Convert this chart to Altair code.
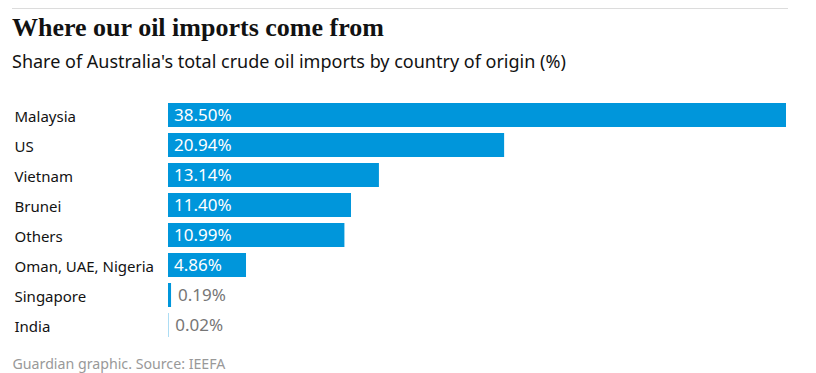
import altair as alt
import pandas as pd

countries = ["Malaysia", "US", "Vietnam", "Brunei", "Others", "Oman, UAE, Nigeria", "Singapore", "India"]
shares = [38.50, 20.94, 13.14, 11.40, 10.99, 4.86, 0.19, 0.02]

title_text = "Where our oil imports come from"
subtitle_text = "Share of Australia's total crude oil imports by country of origin (%)"
footer_text = "Guardian graphic. Source: IEEFA"

BLUE = "#0096db"
INK = "#121212"
SANS = "Noto Sans"

df = pd.DataFrame({"country": countries, "share": shares})

y_enc = alt.Y(
    "country:N",
    sort=countries,
    title=None,
    scale=alt.Scale(paddingInner=0.2, paddingOuter=0.1),
    axis=alt.Axis(
        labelAlign="left",
        labelPadding=154,
        ticks=False,
        tickSize=0,
        domain=False,
        labelFont=SANS,
        labelFontSize=15,
        labelColor=INK,
        labelBaseline="alphabetic",
        labelOffset=7.4,
    ),
)

x_scale = alt.Scale(domain=[0, 38.5], nice=False, zero=True)

base = alt.Chart(df)

bars = base.mark_bar(color=BLUE).encode(
    x=alt.X(
        "share:Q",
        scale=x_scale,
        axis=alt.Axis(
            labels=False,
            ticks=False,
            domain=False,
            grid=False,
            title=footer_text,
            titleX=-156,
            titleY=28,
            titleAlign="left",
            titleBaseline="alphabetic",
            titleFont=SANS,
            titleFontSize=14.2,
            titleFontWeight="normal",
            titleColor="#999999",
        ),
    ),
    y=y_enc,
)

inside = (
    base.transform_filter("datum.share >= 1")
    .transform_calculate(zero="0", label="format(datum.share, '.2f') + '%'")
    .mark_text(align="left", baseline="alphabetic", dx=6, dy=6.4, font=SANS, fontSize=17, color="white")
    .encode(x=alt.X("zero:Q", scale=x_scale), y=y_enc, text="label:N")
)

outside = (
    base.transform_filter("datum.share < 1")
    .transform_calculate(label="format(datum.share, '.2f') + '%'")
    .mark_text(align="left", baseline="alphabetic", dx=7, dy=6.4, font=SANS, fontSize=17, color="#767676")
    .encode(x=alt.X("share:Q", scale=x_scale), y=y_enc, text="label:N")
)

top_rule = alt.Chart(pd.DataFrame({"a": [0]})).mark_rule(color="#dcdcdc", strokeWidth=1).encode(
    x=alt.value(-156), x2=alt.value(620), y=alt.value(-91.5)
)

chart = (
    alt.layer(top_rule, bars, inside, outside)
    .properties(
        width=618,
        height=240,
        autosize=alt.AutoSizeParams(type="none"),
        padding={"left": 160, "top": 92, "right": 22, "bottom": 33},
        title=alt.TitleParams(
            text=title_text,
            subtitle=subtitle_text,
            anchor="start",
            frame="group",
            dx=-156,
            font="Liberation Serif",
            fontSize=26,
            fontWeight="bold",
            color=INK,
            subtitleFont=SANS,
            subtitleFontSize=18,
            subtitleColor=INK,
            subtitlePadding=13,
            offset=-64,
        ),
    )
    .configure_view(stroke=None)
)

chart.save("out.html", embed_options={"renderer": "svg", "actions": False})
